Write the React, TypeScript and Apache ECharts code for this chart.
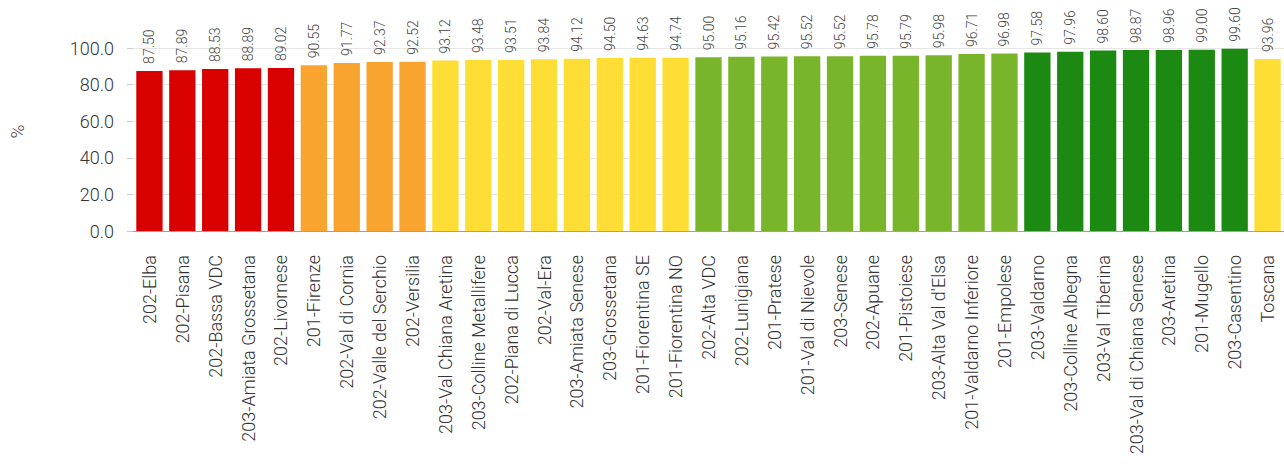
import React, { useEffect, useRef } from "react";
import * as echarts from "echarts";

const categories = [
  "202-Elba", "202-Pisana", "202-Bassa VDC", "203-Amiata Grossetana", "202-Livornese",
  "201-Firenze", "202-Val di Cornia", "202-Valle del Serchio", "202-Versilia",
  "203-Val Chiana Aretina", "203-Colline Metallifere", "202-Piana di Lucca", "202-Val-Era",
  "203-Amiata Senese", "203-Grossetana", "201-Fiorentina SE", "201-Fiorentina NO",
  "202-Alta VDC", "202-Lunigiana", "201-Pratese", "201-Val di Nievole", "203-Senese",
  "202-Apuane", "201-Pistoiese", "203-Alta Val d'Elsa", "201-Valdarno Inferiore",
  "201-Empolese", "203-Valdarno", "203-Colline Albegna", "203-Val Tiberina",
  "203-Val di Chiana Senese", "203-Aretina", "201-Mugello", "203-Casentino", "Toscana",
];

const values = [
  87.5, 87.89, 88.53, 88.89, 89.02,
  90.55, 91.77, 92.37, 92.52,
  93.12, 93.48, 93.51, 93.84, 94.12, 94.5, 94.63, 94.74,
  95.0, 95.16, 95.42, 95.52, 95.52, 95.78, 95.79, 95.98, 96.71, 96.98,
  97.58, 97.96, 98.6, 98.87, 98.96, 99.0, 99.6,
  93.96,
];

// class index per bar: 0 red, 1 orange, 2 yellow, 3 light green, 4 dark green
const classes = [
  0, 0, 0, 0, 0,
  1, 1, 1, 1,
  2, 2, 2, 2, 2, 2, 2, 2,
  3, 3, 3, 3, 3, 3, 3, 3, 3, 3,
  4, 4, 4, 4, 4, 4, 4,
  2,
];

const classColors = ["#d90000", "#f8a42f", "#fede35", "#79b52a", "#1b8912"];

const yTicks = { min: 0, max: 100, interval: 20 };

const FONT = "Roboto, 'Noto Sans', sans-serif";

export default function App() {
  const ref = useRef<HTMLDivElement>(null);
  useEffect(() => {
    if (!ref.current) return;
    const chart = echarts.init(ref.current, undefined, { renderer: "svg" });
    chart.setOption({
      animation: false,
      textStyle: { fontFamily: FONT },
      grid: { left: 129, right: 0, top: 48, bottom: 241, containLabel: false },
      xAxis: {
        type: "category",
        data: categories,
        axisLine: { show: true, lineStyle: { color: "#a0a0a0", width: 1 } },
        axisTick: { show: false },
        axisLabel: {
          rotate: 90,
          interval: 0,
          fontSize: 18,
          fontWeight: 300,
          color: "#333",
          fontFamily: FONT,
          margin: 24,
        },
      },
      yAxis: {
        type: "value",
        min: yTicks.min,
        max: yTicks.max,
        interval: yTicks.interval,
        name: "%",
        nameLocation: "middle",
        nameRotate: 90,
        nameGap: 106,
        nameTextStyle: { fontSize: 19, fontWeight: 300, color: "#444", fontFamily: FONT, padding: [0, 0, 0, 16] },
        axisLine: { show: false },
        axisTick: { show: true, length: 6, lineStyle: { color: "#ccc" } },
        splitLine: { show: true, lineStyle: { color: "#e6e6e6" } },
        axisLabel: {
          fontSize: 18,
          fontWeight: 300,
          color: "#333",
          fontFamily: FONT,
          margin: 19,
          formatter: (v: number) => v.toFixed(1),
        },
      },
      series: [
        {
          type: "bar",
          barCategoryGap: "20%",
          data: values.map((v, i) => ({
            value: v,
            itemStyle: { color: classColors[classes[i]] },
          })),
          label: {
            show: true,
            position: "top",
            rotate: 90,
            align: "left",
            verticalAlign: "middle",
            distance: 7,
            fontSize: 14,
            fontWeight: 300,
            color: "#444",
            fontFamily: FONT,
            formatter: (p: any) => Number(p.value).toFixed(2),
          },
        },
      ],
    });
    return () => chart.dispose();
  }, []);
  return (
    <div
      ref={ref}
      style={{ position: "fixed", left: 0, top: 0, width: 1284, height: 472, background: "#fff" }}
    />
  );
}
